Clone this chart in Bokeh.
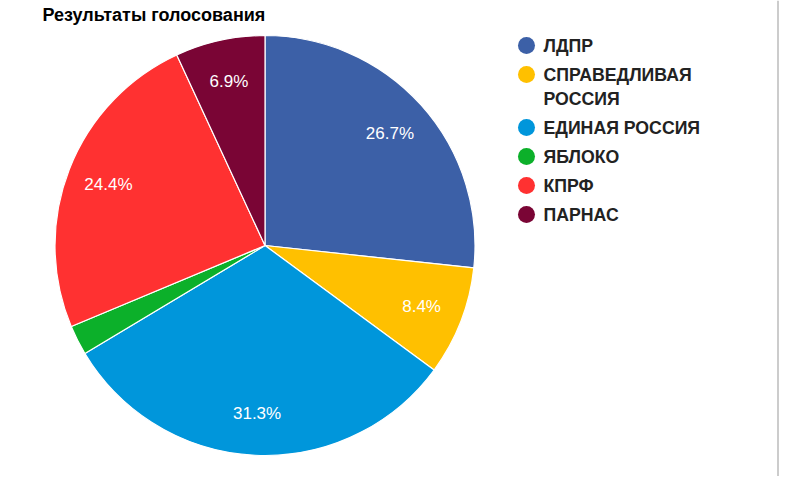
import math
from bokeh.plotting import figure
from bokeh.models import Range1d, ColumnDataSource
from bokeh.core.properties import value
from bokeh.embed import file_html
from bokeh.resources import INLINE

title = "Результаты голосования"
parties = ["ЛДПР", "СПРАВЕДЛИВАЯ\nРОССИЯ", "ЕДИНАЯ РОССИЯ", "ЯБЛОКО", "КПРФ", "ПАРНАС"]
shares = [26.7, 8.4, 31.3, 2.3, 24.4, 6.9]
colors = ["#3c60a7", "#ffc000", "#0096db", "#0cb02a", "#ff3131", "#7a0535"]

W, H = 779, 476
p = figure(width=W, height=H, output_backend="svg", toolbar_location=None,
           x_range=Range1d(0, W), y_range=Range1d(0, H), min_border=0)
p.axis.visible = False
p.grid.visible = False
p.outline_line_color = None
p.background_fill_color = "white"
p.border_fill_color = "white"

def px(x):
    return x

def py(y):
    return H - y

cx, cy, R = px(264.5), py(245), 210
total = sum(shares)
starts, ends, lx, ly, labels = [], [], [], [], []
cum = 0.0
for s in shares:
    a0 = math.pi / 2 - 2 * math.pi * (cum + s) / total
    a1 = math.pi / 2 - 2 * math.pi * cum / total
    starts.append(a0)
    ends.append(a1)
    mid = (a0 + a1) / 2
    if s >= 5:
        lx.append(cx + 0.8 * R * math.cos(mid))
        ly.append(cy + 0.8 * R * math.sin(mid))
        labels.append(f"{s:.1f}%")
    cum += s

src = ColumnDataSource(dict(start=starts, end=ends, color=colors))
p.wedge(x=cx, y=cy, radius=R, start_angle="start", end_angle="end", direction="anticlock",
        fill_color="color", line_color="white", line_width=1.2, source=src)

p.text(x=lx, y=ly, text=labels, text_color="white", text_font=value("Liberation Sans"),
       text_font_size="17px", text_align="center", text_baseline="middle")

# legend
mx, my, tx, ty, tt = [], [], [], [], []
y = 45
for name in parties:
    lines = name.split("\n")
    mx.append(px(526)); my.append(py(y))
    for i, ln in enumerate(lines):
        tx.append(px(543)); ty.append(py(y + 24 * i)); tt.append(ln)
    y += 24 * (len(lines) - 1) + 29
p.scatter(x=mx, y=my, size=17, marker="circle", fill_color=colors, line_color=None)
p.text(x=tx, y=ty, text=tt, text_color="#222222", text_font=value("Liberation Sans"),
       text_font_size="17.7px", text_font_style="bold", text_align="left", text_baseline="middle")

# title
p.text(x=[px(42)], y=[py(14)], text=[title], text_color="black", text_font=value("Liberation Sans"),
       text_font_size="18px", text_font_style="bold", text_align="left", text_baseline="middle")

# right border
p.segment(x0=[px(777.5)], y0=[0], x1=[px(777.5)], y1=[H], line_color="#cccccc", line_width=2)

open("out.html", "w").write(file_html(p, INLINE))
